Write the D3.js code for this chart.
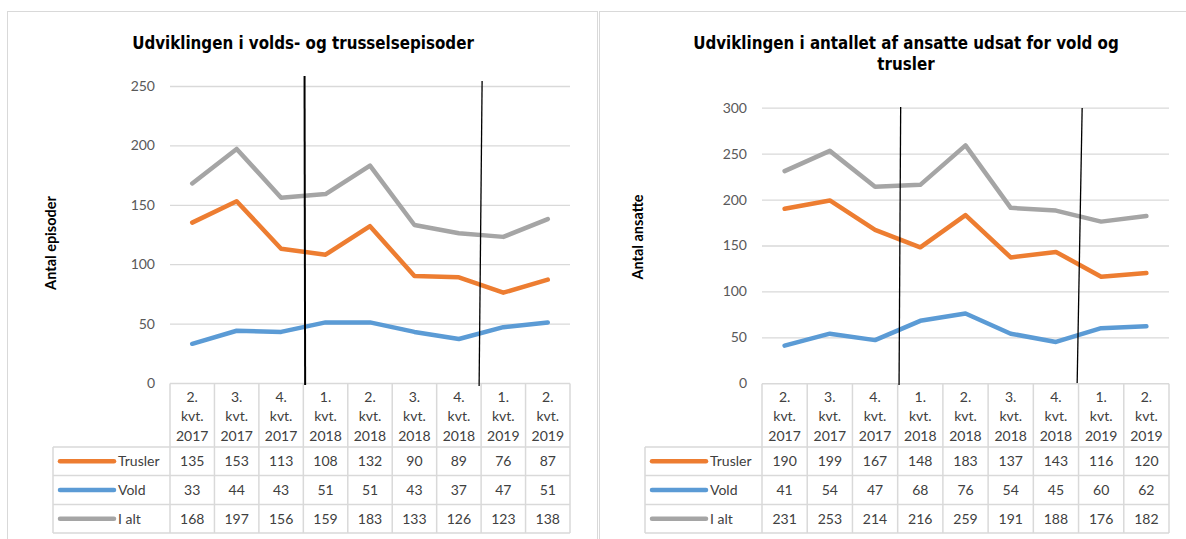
<!DOCTYPE html>
<html>
<head>
<meta charset="utf-8">
<script src="https://cdn.jsdelivr.net/npm/d3@7"></script>
<style>
  body { margin: 0; background: #fff; }
  svg { display: block; }
  .tick text { font-family: Lato, "Open Sans", sans-serif; font-size: 14px; fill: #595959; }
  .cell { font-family: Lato, "Open Sans", sans-serif; font-size: 14px; fill: #404040; }
  .title { font-family: "DejaVu Sans Condensed", "DejaVu Sans", sans-serif; font-weight: bold; font-size: 16.8px; fill: #000; }
  .ytitle { font-family: Lato, "Open Sans", sans-serif; font-weight: bold; font-size: 14.5px; fill: #000; }
</style>
</head>
<body>
<div id="chart"></div>
<script>
// kvartaler
const categories = ["2. kvt. 2017", "3. kvt. 2017", "4. kvt. 2017", "1. kvt. 2018", "2. kvt. 2018",
                    "3. kvt. 2018", "4. kvt. 2018", "1. kvt. 2019", "2. kvt. 2019"];
const seriesNames = ["Trusler", "Vold", "I alt"];

// episoder
const episoderTrusler = [135, 153, 113, 108, 132, 90, 89, 76, 87];
const episoderVold = [33, 44, 43, 51, 51, 43, 37, 47, 51];
const episoderIalt = [168, 197, 156, 159, 183, 133, 126, 123, 138];
const episoderTicks = [0, 50, 100, 150, 200, 250];

// ansatte
const ansatteTrusler = [190, 199, 167, 148, 183, 137, 143, 116, 120];
const ansatteVold = [41, 54, 47, 68, 76, 54, 45, 60, 62];
const ansatteIalt = [231, 253, 214, 216, 259, 191, 188, 176, 182];
const ansatteTicks = [0, 50, 100, 150, 200, 250, 300];

// de håndtegnede skillelinjer ligger efter disse kvartaler
const separatorsAfter = ["4. kvt. 2017", "4. kvt. 2018"];

const colors = { "Trusler": "#ED7D31", "Vold": "#5B9BD5", "I alt": "#A5A5A5" };

let width = 1186, height = 539;

let svg = d3.select('#chart').append('svg')
    .attr('width', width)
    .attr('height', height);

// panel-rammer
svg.append('rect').attr('x', 7.5).attr('y', 11.5).attr('width', 590).attr('height', 540)
    .attr('fill', 'none').attr('stroke', '#d9d9d9');
svg.append('rect').attr('x', 599.5).attr('y', 11.5).attr('width', 600).attr('height', 540)
    .attr('fill', 'none').attr('stroke', '#d9d9d9');

function drawPanel(cfg) {
    let g = svg.append('g');

    let x = d3.scaleBand()
        .domain(categories)
        .range([cfg.x0, cfg.x1])
        .padding(0);
    let bw = x.bandwidth();

    let y = d3.scaleLinear()
        .domain([0, d3.max(cfg.ticks)])
        .range([cfg.yBottom, cfg.yTop]);

    // titel
    cfg.title.forEach((t, i) => {
        g.append('text')
            .attr('class', 'title')
            .attr('x', cfg.titleX)
            .attr('y', 49 + i * 21)
            .attr('text-anchor', 'middle')
            .text(t);
    });

    // y-akse titel
    g.append('text')
        .attr('class', 'ytitle')
        .attr('transform', `translate(${cfg.yTitleX},${cfg.yTitleY}) rotate(-90)`)
        .attr('text-anchor', 'middle')
        .text(cfg.yTitle);

    // gitter + tal
    let yAxis = g.append('g')
        .attr('transform', `translate(${cfg.x0},0)`)
        .call(d3.axisLeft(y).tickValues(cfg.ticks).tickSize(-(cfg.x1 - cfg.x0)).tickPadding(15));
    yAxis.select('.domain').remove();
    yAxis.selectAll('.tick line')
        .attr('stroke', d => d === 0 ? 'none' : '#d9d9d9')
        .attr('stroke-width', 1.3);

    // linjer
    let line = d3.line()
        .x((d, i) => x(categories[i]) + bw / 2)
        .y(d => y(d));

    cfg.series.forEach((vals, si) => {
        g.append('path')
            .datum(vals)
            .attr('fill', 'none')
            .attr('stroke', colors[seriesNames[si]])
            .attr('stroke-width', 4.5)
            .attr('stroke-linejoin', 'round')
            .attr('stroke-linecap', 'round')
            .attr('d', line);
    });

    // datatabel
    let tTop = cfg.yBottom + 0.5;
    let rowEdges = [tTop, 447, 475.5, 504.5, 533];
    let tg = g.append('g');
    let border = '#d9d9d9';

    // vandrette streger
    tg.selectAll('line.h')
        .data(rowEdges)
        .enter()
        .append('line')
        .attr('x1', (d, i) => i === 0 ? cfg.x0 : cfg.tableX0)
        .attr('x2', cfg.x1)
        .attr('y1', d => d)
        .attr('y2', d => d)
        .attr('stroke', border)
        .attr('stroke-width', 1.5);

    // lodrette streger
    let colEdges = categories.map(c => x(c)).concat([cfg.x1]);
    tg.selectAll('line.v')
        .data(colEdges)
        .enter()
        .append('line')
        .attr('x1', d => d)
        .attr('x2', d => d)
        .attr('y1', tTop)
        .attr('y2', rowEdges[4])
        .attr('stroke', border)
        .attr('stroke-width', 1.5);
    tg.append('line')
        .attr('x1', cfg.tableX0).attr('x2', cfg.tableX0)
        .attr('y1', rowEdges[1]).attr('y2', rowEdges[4])
        .attr('stroke', border).attr('stroke-width', 1.5);

    // kategori-overskrifter
    categories.forEach(c => {
        c.split(' ').forEach((part, li) => {
            tg.append('text')
                .attr('class', 'cell')
                .attr('x', x(c) + bw / 2)
                .attr('y', 402 + li * 19.3)
                .attr('text-anchor', 'middle')
                .text(part);
        });
    });

    // rækker
    cfg.series.forEach((vals, si) => {
        let cy = (rowEdges[si + 1] + rowEdges[si + 2]) / 2;
        tg.append('line')
            .attr('x1', cfg.tableX0 + 7)
            .attr('x2', cfg.tableX0 + 61)
            .attr('y1', cy)
            .attr('y2', cy)
            .attr('stroke', colors[seriesNames[si]])
            .attr('stroke-width', 4.5)
            .attr('stroke-linecap', 'round');
        tg.append('text')
            .attr('class', 'cell')
            .attr('x', cfg.tableX0 + 65)
            .attr('y', cy + 5)
            .text(seriesNames[si]);
        tg.selectAll(null)
            .data(vals)
            .enter()
            .append('text')
            .attr('class', 'cell')
            .attr('x', (d, i) => x(categories[i]) + bw / 2)
            .attr('y', cy + 5)
            .attr('text-anchor', 'middle')
            .text(d => d);
    });

    // håndtegnede skillelinjer
    separatorsAfter.forEach((c, i) => {
        let bx = x(c) + bw;
        let s = cfg.seps[i];
        g.append('line')
            .attr('x1', bx + s.dxTop)
            .attr('y1', s.top)
            .attr('x2', bx + s.dxBottom)
            .attr('y2', s.bottom)
            .attr('stroke', '#000')
            .attr('stroke-width', s.w);
    });
}

drawPanel({
    x0: 170, x1: 570, yTop: 86, yBottom: 383, tableX0: 53,
    ticks: episoderTicks,
    series: [episoderTrusler, episoderVold, episoderIalt],
    title: ["Udviklingen i volds- og trusselsepisoder"], titleX: 303,
    yTitle: "Antal episoder", yTitleX: 56, yTitleY: 243,
    seps: [{ dxTop: 1.2, dxBottom: 1.8, top: 76, bottom: 385, w: 2 },
           { dxTop: 1, dxBottom: -2, top: 81, bottom: 386, w: 1.3 }]
});

drawPanel({
    x0: 762, x1: 1169, yTop: 107.7, yBottom: 383.3, tableX0: 645,
    ticks: ansatteTicks,
    series: [ansatteTrusler, ansatteVold, ansatteIalt],
    title: ["Udviklingen i antallet af ansatte udsat for vold og", "trusler"], titleX: 906,
    yTitle: "Antal ansatte", yTitleX: 643, yTitleY: 237,
    seps: [{ dxTop: 3, dxBottom: 1.4, top: 107, bottom: 385, w: 1.3 },
           { dxTop: 3.6, dxBottom: -1.4, top: 108, bottom: 383, w: 1.3 }]
});
</script>
</body>
</html>
